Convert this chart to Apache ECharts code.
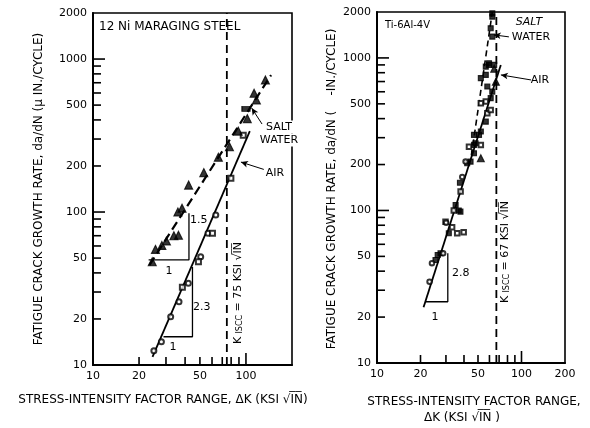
<!DOCTYPE html>
<html>
<head>
<meta charset="utf-8">
<script src="https://cdn.jsdelivr.net/npm/echarts@6/dist/echarts.min.js"></script>
<style>
  html, body { margin: 0; padding: 0; background: #fff; }
  #chart { width: 590px; height: 428px; }
</style>
</head>
<body>
<div id="chart"></div>
<script>
// ---------- 12 Ni maraging steel (left panel) ----------
const steelAirCircles = [[25.0,12.4],[28.0,14.2],[32.2,20.7],[36.5,25.9],[42.0,34.2],[50.6,51.0],[56.5,72.6],[63.5,95.5]];
const steelAirSquares = [[38.4,32.2],[48.9,47.3],[60.4,72.6],[79.7,166],[96,318]];
const steelSaltTriangles = [[24.4,47.3],[25.6,57.0],[28.2,60.5],[30.2,64.6],[33.8,70.0],[36.2,70.5],[35.9,100],[38.2,106],
  [42.2,150],[53.0,181],[66.0,228],[78.0,267],[89.0,338],[102,408],[113,597],[117,540],[134,730]];
const steelSaltSquares = [[100,472]];
const steelAirFit = [[24.5,11.3],[106,338]];
const steelSaltFit = [[23.4,45],[146,786]];
const steelSlopeSalt = [[23.1,48.6],[42.4,48.6],[42.4,98]];
const steelSlopeAir = [[28.9,15.3],[44.7,15.3],[44.7,43.7]];
const steelKiscc = 75;

// ---------- Ti-6Al-4V (right panel) ----------
const tiOpenCircles = [[23.1,34.1],[24.0,45.1],[28.7,52.4],[30.1,83.2],[38.9,166],[41.0,209]];
const tiOpenSquares = [[29.8,84.4],[33.1,77.6],[35.9,70.9],[34.0,100],[37.9,133],[43.3,262],[52.3,269],[58.0,433],
  [61.2,456],[56.6,518],[52.3,505],[39.8,72]];
const tiFilledSquares = [[25.4,47.3],[26.3,51.1],[27.5,52.4],[31.4,70.9],[37.8,98.2],[36.8,100],[35.0,108.7],[37.5,152],
  [42.1,204],[44.4,209],[46.9,237],[46.9,269],[48.1,276],[46.9,313],[50.8,313],[52.3,329],[56.6,382],[61.2,545],
  [62.8,601],[58.0,649],[52.3,737],[56.6,774],[56.6,877],[59.6,900],[64.7,900],[59.6,923],[62.8,1380],[61.2,1566],
  [62.8,1866],[62.8,1960]];
const tiTriangles = [[52.3,220],[66.5,699],[64.7,850]];
const tiAirFit = [[21.0,23.2],[71.9,900]];
const tiSaltFit = [[45,230],[62.8,2000]];
const tiSlopeAir = [[21.6,25.2],[30.9,25.2],[30.9,52.4]];
const tiKiscc = 67;

// ---------- axes ----------
const yRange = [10, 2000];
const steelXRange = [10, 200];
const tiXRange = [10, 200];
const yTickLabels = [10, 20, 50, 100, 200, 500, 1000, 2000];
const steelXTickLabels = [10, 20, 50, 100];
const tiXTickLabels = [10, 20, 50, 100, 200];
const yTicks = [20,30,40,50,60,70,80,90,100,200,300,400,500,600,700,800,900,1000];
const xTicks = [20,30,40,50,60,70,80,90,100];

const FONT = 'DejaVu Sans';
const INK = '#000';

function isDecade(v) { return Math.abs(Math.log10(v) - Math.round(Math.log10(v))) < 1e-9; }

function logAxis(grid, range, labels, pos) {
  return {
    type: 'log', logBase: 10, gridIndex: grid, min: range[0], max: range[1], position: pos,
    axisLine: { show: true, onZero: false, lineStyle: { color: INK, width: 2 } },
    axisTick: { show: false },
    minorTick: { show: false },
    splitLine: { show: false },
    axisLabel: { customValues: labels, color: INK, fontFamily: FONT, fontSize: 11, margin: 6,
      showMinLabel: true, showMaxLabel: true, formatter: v => String(Math.round(v)) }
  };
}

// inward tick marks drawn at data values through the axis scale
function tickSeries(grid, dim, values, corner) {
  return {
    type: 'custom', xAxisIndex: grid, yAxisIndex: grid, silent: true, z: 4,
    data: values.map(v => dim === 'y' ? [corner, v] : [v, corner]),
    renderItem(params, api) {
      const p = api.coord([api.value(0), api.value(1)]);
      const v = dim === 'y' ? api.value(1) : api.value(0);
      const len = isDecade(v) ? 12 : 8;
      const shape = dim === 'y'
        ? { x1: p[0], y1: p[1], x2: p[0] + len, y2: p[1] }
        : { x1: p[0], y1: p[1], x2: p[0], y2: p[1] - len };
      return { type: 'line', shape, style: { stroke: INK, lineWidth: 1.6 } };
    }
  };
}

function lineSeries(grid, data, opts) {
  return Object.assign({
    type: 'line', xAxisIndex: grid, yAxisIndex: grid, data, symbol: 'none', silent: true, z: 3,
    lineStyle: { color: INK, width: 1.8 }
  }, opts || {});
}

function scatter(grid, data, symbol, size, z) {
  return {
    type: 'scatter', xAxisIndex: grid, yAxisIndex: grid, data, symbol, symbolSize: size, silent: true, z: z || 5,
    itemStyle: { color: INK, borderColor: INK, borderWidth: 1.1 }
  };
}

function arrow(from, to) {
  return {
    silent: true, symbol: ['none', 'arrow'], symbolSize: [5, 7], animation: false,
    lineStyle: { color: INK, width: 1, type: 'solid' }, label: { show: false },
    data: [[{ coord: from }, { coord: to }]]
  };
}

function txt(x, y, text, opt, rotation) {
  return {
    type: 'text', x, y, silent: true, z: 100, rotation: rotation || 0,
    style: Object.assign({ text, fill: INK, font: '11px "' + FONT + '"', align: 'left', verticalAlign: 'middle' }, opt || {})
  };
}

const kRich = {
  k: { fontFamily: FONT, fontSize: 11, color: INK },
  s: { fontFamily: FONT, fontSize: 8, color: INK, verticalAlign: 'bottom', padding: [3, 0, 0, 0] },
  t: { fontFamily: FONT, fontSize: 11, color: INK }
};

const UP = Math.PI / 2;

const chart = echarts.init(document.getElementById('chart'), null, { renderer: 'canvas' });
chart.setOption({
  animation: false,
  backgroundColor: '#fff',
  grid: [
    { left: 93, top: 13, width: 199, height: 352, show: true, borderColor: INK, borderWidth: 1.6 },
    { left: 377, top: 12, width: 188, height: 351, show: true, borderColor: INK, borderWidth: 1.6 }
  ],
  xAxis: [
    logAxis(0, steelXRange, steelXTickLabels, 'bottom'),
    logAxis(1, tiXRange, tiXTickLabels, 'bottom')
  ],
  yAxis: [
    logAxis(0, yRange, yTickLabels, 'left'),
    logAxis(1, yRange, yTickLabels, 'left')
  ],
  series: [
    tickSeries(0, 'y', yTicks, steelXRange[0]),
    tickSeries(0, 'x', xTicks, yRange[0]),
    tickSeries(1, 'y', yTicks, tiXRange[0]),
    tickSeries(1, 'x', xTicks, yRange[0]),

    // steel panel
    lineSeries(0, [[steelKiscc, yRange[0]], [steelKiscc, yRange[1]]], { lineStyle: { color: INK, width: 1.8, type: [8, 5] } }),
    lineSeries(0, steelAirFit, { markLine: arrow([135, 188], [92.7, 212]) }),
    lineSeries(0, steelSaltFit, { lineStyle: { color: INK, width: 2.2, type: [9, 5] }, markLine: arrow([127.4, 376], [109, 478]) }),
    lineSeries(0, steelSlopeSalt, { lineStyle: { color: INK, width: 1.3 } }),
    lineSeries(0, steelSlopeAir, { lineStyle: { color: INK, width: 1.3 } }),
    scatter(0, steelAirCircles, 'emptyCircle', 5),
    scatter(0, steelAirSquares, 'emptyRect', 5),
    scatter(0, steelSaltTriangles, 'triangle', 8),
    scatter(0, steelSaltSquares, 'rect', [8, 5]),

    // titanium panel
    lineSeries(1, [[tiKiscc, yRange[0]], [tiKiscc, yRange[1]]], { lineStyle: { color: INK, width: 1.8, type: [8, 5] } }),
    lineSeries(1, tiAirFit, { markLine: arrow([116.5, 717], [72, 774]) }),
    lineSeries(1, tiSaltFit, { lineStyle: { color: INK, width: 1.6, type: [6, 4] }, markLine: arrow([81.8, 1374], [64.3, 1416]) }),
    lineSeries(1, tiSlopeAir, { lineStyle: { color: INK, width: 1.3 } }),
    scatter(1, tiFilledSquares, 'rect', 5),
    scatter(1, tiOpenSquares, 'emptyRect', 4.5, 6),
    scatter(1, tiOpenCircles, 'emptyCircle', 4.5, 6),
    scatter(1, tiTriangles, 'triangle', 7)
  ],
  graphic: [
    // axis titles
    txt(39, 189, 'FATIGUE CRACK GROWTH RATE, da/dN (\u03bc IN./CYCLE)', { align: 'center', font: '12px "' + FONT + '"' }, UP),
    txt(332, 189, 'FATIGUE CRACK GROWTH RATE, da/dN (    -IN./CYCLE)', { align: 'center', font: '12px "' + FONT + '"' }, UP),
    txt(163, 400, 'STRESS-INTENSITY FACTOR RANGE, \u0394K (KSI \u221aI\u0305N\u0305)', { align: 'center', font: '12px "' + FONT + '"' }),
    txt(474, 402, 'STRESS-INTENSITY FACTOR RANGE,', { align: 'center', font: '12px "' + FONT + '"' }),
    txt(462, 418, '\u0394K (KSI \u221aI\u0305N\u0305 )', { align: 'center', font: '12px "' + FONT + '"' }),

    // steel panel annotations
    txt(99, 27, '12 Ni MARAGING STEEL', { font: '12px "' + FONT + '"' }),
    txt(279, 127, 'SALT', { align: 'center', backgroundColor: '#fff', padding: [1, 2] }),
    txt(279, 140, 'WATER', { align: 'center', backgroundColor: '#fff', padding: [1, 2] }),
    txt(275, 173, 'AIR', { align: 'center', backgroundColor: '#fff', padding: [1, 2] }),
    txt(190, 220, '1.5'),
    txt(169, 271, '1', { align: 'center' }),
    txt(193, 307, '2.3'),
    txt(173, 347, '1', { align: 'center' }),
    { type: 'text', x: 238, y: 293, rotation: UP, silent: true, z: 100,
      style: { text: '{k|K} {s|ISCC} {t|= 75 KSI \u221aI\u0305N\u0305}', rich: kRich, align: 'center', verticalAlign: 'middle',
        backgroundColor: '#fff' } },

    // titanium panel annotations
    txt(385, 25, 'Ti-6Al-4V', { font: '10px "' + FONT + '"' }),
    txt(529, 22, 'SALT', { align: 'center', font: 'italic 11px "' + FONT + '"' }),
    txt(531, 37, 'WATER', { align: 'center' }),
    txt(540, 80, 'AIR', { align: 'center' }),
    txt(452, 273, '2.8'),
    txt(435, 317, '1', { align: 'center' }),
    { type: 'text', x: 505, y: 252, rotation: UP, silent: true, z: 100,
      style: { text: '{k|K} {s|ISCC} {t|= 67 KSI \u221aI\u0305N\u0305}', rich: kRich, align: 'center', verticalAlign: 'middle' } }
  ]
});
</script>
</body>
</html>
